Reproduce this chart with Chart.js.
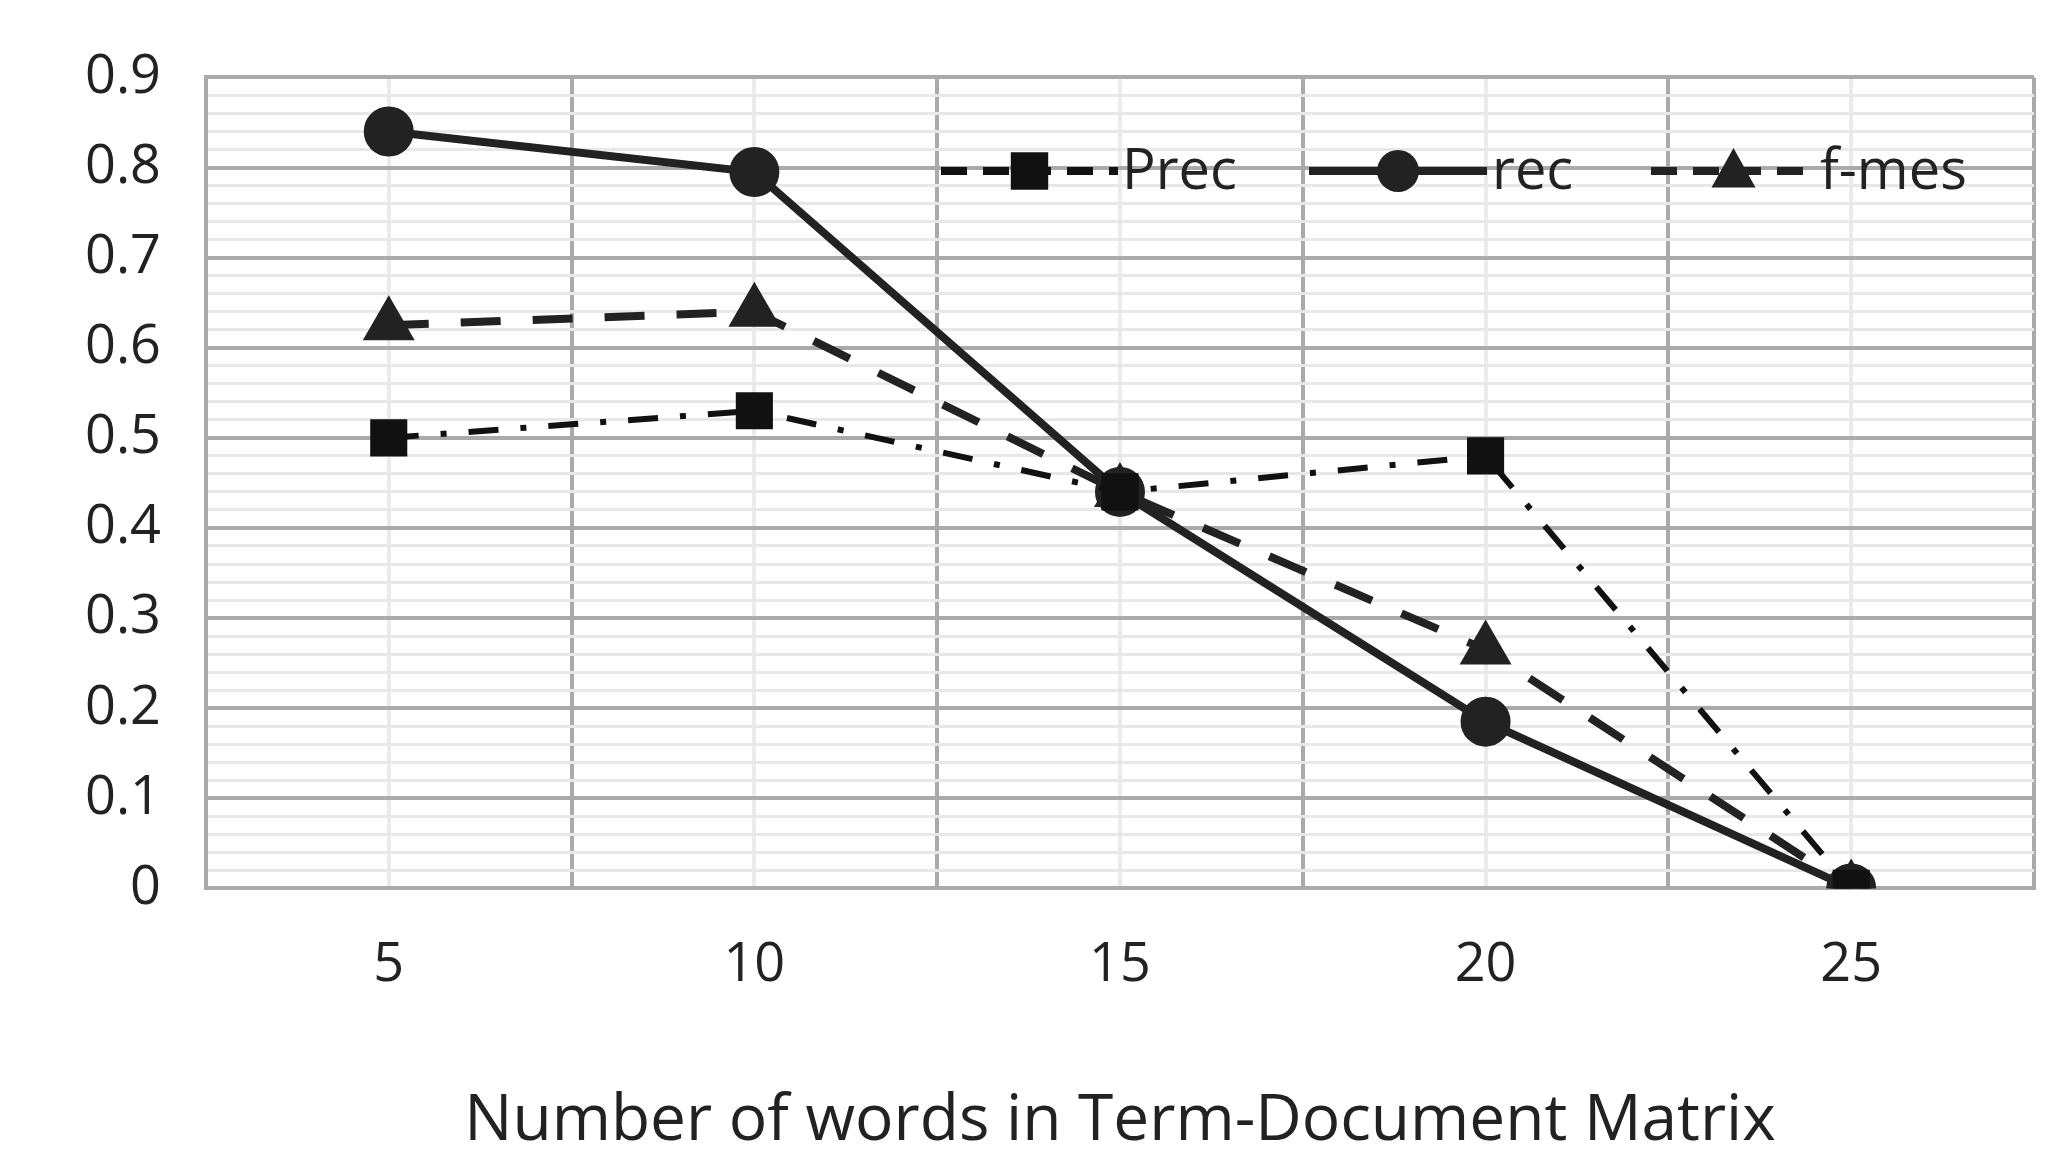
<!DOCTYPE html>
<html><head><meta charset="utf-8">
<script src="https://cdn.jsdelivr.net/npm/chart.js@4"></script>
<style>html,body{margin:0;background:#fff}</style></head>
<body><canvas id="c" width="2064" height="1174"></canvas>
<script>
const categories = ['5','10','15','20','25'];
const precValues = [0.5, 0.53, 0.44, 0.48, 0];
const recValues = [0.84, 0.795, 0.44, 0.185, 0];
const fmesValues = [0.625, 0.64, 0.44, 0.265, 0];
const seriesLabels = ['Prec','rec','f-mes'];
const yTicks = [0,0.1,0.2,0.3,0.4,0.5,0.6,0.7,0.8,0.9];
const xTitle = 'Number of words in Term-Document Matrix';
const FONT = "'Open Sans', 'Liberation Sans', sans-serif";

const legendPlugin = {
  id:'customLegend',
  afterDraw(chart){
    const ctx = chart.ctx;
    const pos = [[941,1118,1122],[1309,1487,1492],[1651,1816,1820]];
    const y = 171;
    chart.data.datasets.forEach((ds,i)=>{
      const [x1,x2,tx] = pos[i];
      ctx.save();
      ctx.strokeStyle = ds.borderColor; ctx.lineWidth = 8;
      ctx.setLineDash(i===1?[]:[26,16]);
      ctx.beginPath(); ctx.moveTo(x1,y); ctx.lineTo(x2,y); ctx.stroke();
      ctx.setLineDash([]);
      ctx.fillStyle = ds.pointBackgroundColor;
      const cx=(x1+x2)/2, r=ds.pointRadius;
      ctx.beginPath();
      if(ds.pointStyle==='rect'){ctx.rect(cx-r*0.85,y-r*0.85,r*1.7,r*1.7);}
      else if(ds.pointStyle==='circle'){ctx.arc(cx,y,r,0,Math.PI*2);}
      else {ctx.moveTo(cx,y-r*1.05);ctx.lineTo(cx+r,y+r*0.75);ctx.lineTo(cx-r,y+r*0.75);ctx.closePath();}
      ctx.fill();
      ctx.font = '56px '+FONT; ctx.fillStyle='#222'; ctx.textBaseline='middle';
      ctx.fillText(ds.label, tx, y+2);
      ctx.restore();
    });
  }
};

new Chart(document.getElementById('c'), {
  type:'line',
  data:{labels:categories, datasets:[
    {label:seriesLabels[0], data:precValues, borderColor:'#111', borderWidth:6, borderDash:[30,22,6,22],
     pointStyle:'rect', pointRadius:22, pointBackgroundColor:'#111', pointBorderColor:'#111', tension:0},
    {label:seriesLabels[1], data:recValues, borderColor:'#222', borderWidth:8, borderDash:[],
     pointStyle:'circle', pointRadius:21, pointBackgroundColor:'#222', pointBorderColor:'#222', tension:0},
    {label:seriesLabels[2], data:fmesValues, borderColor:'#222', borderWidth:8, borderDash:[40,32],
     pointStyle:'triangle', pointRadius:22, pointBackgroundColor:'#222', pointBorderColor:'#222', tension:0}
  ]},
  options:{
    responsive:false, devicePixelRatio:1, animation:false,
    layout:{padding:{top:22,right:30,left:40,bottom:10}},
    plugins:{legend:{display:false}, tooltip:{enabled:false}},
    scales:{
      x2:{type:'category', labels:categories, position:'bottom', offset:true, display:true,
        grid:{color:'#ebebeb', lineWidth:4, offset:false, drawTicks:false}, border:{display:false},
        ticks:{display:false}, z:-2},
      x:{type:'category', offset:true,
        grid:{color:'#aaaaaa', lineWidth:4, offset:true, drawTicks:false}, border:{color:'#aaaaaa', width:4},
        ticks:{color:'#222', font:{size:54, family:FONT}, padding:45},
        title:{display:true, text:xTitle, color:'#222', font:{size:64, family:FONT}, padding:{top:40}}},
      y2:{type:'linear', min:0, max:0.9, position:'left', display:true,
        ticks:{stepSize:0.02, display:false}, grid:{color:'#e8e8e8', lineWidth:3, drawTicks:false},
        border:{display:false}, z:-2, afterFit(s){s.width=0;}},
      y:{type:'linear', min:0, max:0.9,
        afterBuildTicks(s){ s.ticks = yTicks.map(v=>({value:v})); },
        ticks:{color:'#222', font:{size:54, family:FONT}, padding:45, callback:v=>String(Math.round(v*10)/10)},
        grid:{color:'#aaaaaa', lineWidth:4, drawTicks:false}, border:{color:'#aaaaaa', width:4}}
    }
  },
  plugins:[legendPlugin]
});
</script></body></html>
